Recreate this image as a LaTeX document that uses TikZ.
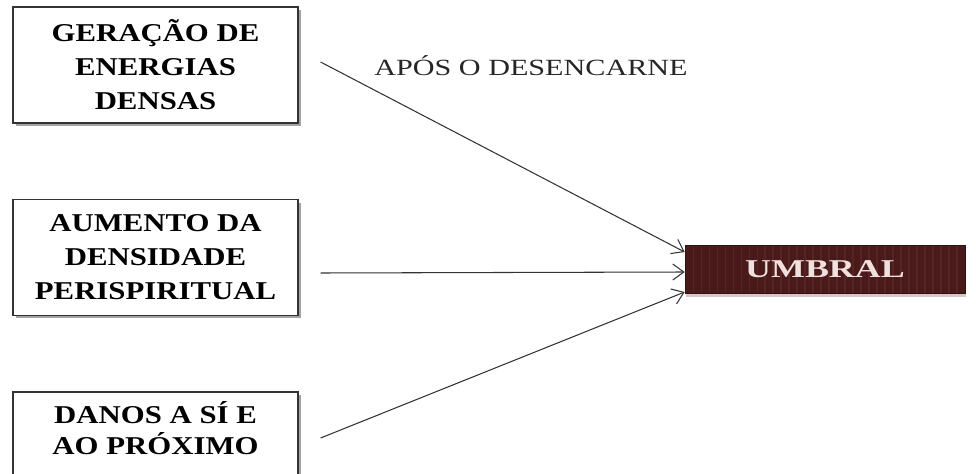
\documentclass[tikz,border=0pt]{standalone}
\usepackage{fontspec}
\setmainfont{Liberation Serif}
\newfontfamily\boxfont[FakeStretch=1.2]{Liberation Serif}
\newfontfamily\labfont[FakeStretch=1.3]{Liberation Serif}
\newfontfamily\umbfont[FakeStretch=1.4]{Liberation Serif}
\usetikzlibrary{shadows,arrows.meta}
\definecolor{umbbrown}{RGB}{74,26,26}
\definecolor{umbstripe}{RGB}{86,36,36}
\definecolor{umbtext}{RGB}{240,225,222}
\begin{document}
\begin{tikzpicture}
			[x=0.02cm,y=-0.02cm,
			box/.style={rectangle,draw=black!80,line width=0.7pt,fill=white,inner sep=0pt,
				minimum width=5.7cm,minimum height=2.32cm,align=center,
				font=\boxfont\bfseries\fontsize{14.6}{19.4}\selectfont,
				drop shadow={shadow xshift=0.06cm,shadow yshift=-0.06cm,fill=black!60,opacity=.6}},
			plain/.style={draw=none,fill=none,align=center,inner sep=0pt},
			goal/.style={rectangle,draw=umbbrown!70!black,fill=umbbrown,inner sep=0pt,
				minimum width=5.6cm,minimum height=0.96cm,text=umbtext,
				font=\umbfont\bfseries\fontsize{14.6}{17}\selectfont,
				drop shadow={shadow xshift=0.02cm,shadow yshift=-0.08cm,fill=red!20!black!30,opacity=.7},
				path picture={\foreach \i in {1,...,34}
					\draw[umbstripe,line width=0.6pt]
					([xshift=\i*0.16cm]path picture bounding box.south west) --
					([xshift=\i*0.16cm]path picture bounding box.north west);}},
			link/.style={-{Straight Barb[length=2.2mm,width=3.2mm]},line width=0.6pt,draw=black!80}
			]
			\useasboundingbox (0,0) rectangle (976,473);

			\node[box] (gen) at (155.5,65) {GERAÇÃO DE\\ENERGIAS\\DENSAS};
			\node[box] (aum) at (155.5,257.5) {AUMENTO DA\\DENSIDADE\\PERISPIRITUAL};
			\node[box] (dan) at (155.5,450) {};
			\node[plain,font=\boxfont\bfseries\fontsize{14.6}{18}\selectfont] (dantxt) at (155.5,428) {DANOS A SÍ E\\AO PRÓXIMO};

			\node[goal] (umb) at (825,269) {UMBRAL};

			\node[plain,font=\labfont\fontsize{13.2}{16}\selectfont,text=black!85] (apos) at (531,66) {APÓS O DESENCARNE};

			\draw[link] ([xshift=0.44cm,yshift=0.06cm]gen.east) -- ([yshift=0.34cm]umb.west);
			\draw[link] ([xshift=0.44cm,yshift=-0.31cm]aum.east) -- ([yshift=-0.06cm]umb.west);
			\draw[link] ([xshift=0.44cm,yshift=0.24cm]dan.east) -- ([yshift=-0.46cm]umb.west);
		\end{tikzpicture}
\end{document}
